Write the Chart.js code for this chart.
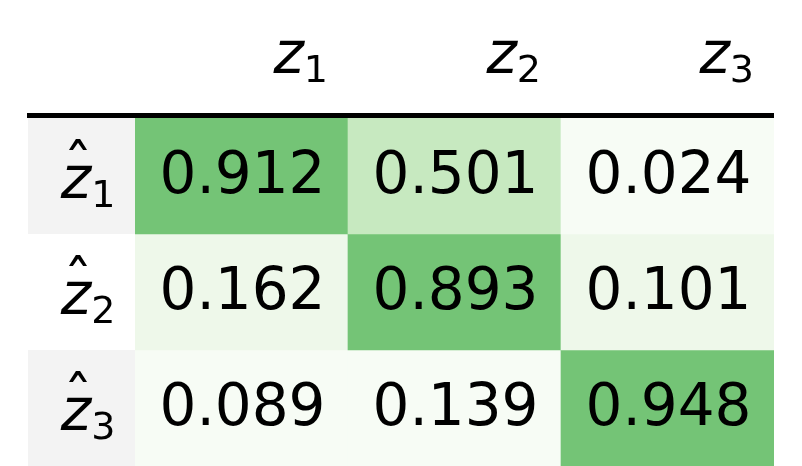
<!DOCTYPE html>
<html>
<head>
<meta charset="utf-8">
<script src="https://cdn.jsdelivr.net/npm/chart.js@4"></script>
<style>
  html, body { margin: 0; padding: 0; background: #fff; }
  #wrap { width: 802px; height: 466px; }
</style>
</head>
<body>
<div id="wrap"><canvas id="myChart"></canvas></div>
<script>
// columns (true factors) and rows (estimates)
const colLabels = ['z1', 'z2', 'z3'];
const rowLabels = ['ẑ1', 'ẑ2', 'ẑ3'];

// correlation values, one array per row
const row1 = [0.912, 0.501, 0.024];
const row2 = [0.162, 0.893, 0.101];
const row3 = [0.089, 0.139, 0.948];
const values = [row1, row2, row3];

// cell shades as they show in the picture
const shades = [
  ['#74c476', '#c7e9c0', '#f7fcf5'],
  ['#eef8ea', '#74c476', '#eef8ea'],
  ['#f7fcf5', '#f7fcf5', '#74c476']
];

const FONT = "'DejaVu Sans', sans-serif";

// every row is a floating bar per column spanning [r-0.5, r+0.5]
const datasets = values.map((row, r) => ({
  label: rowLabels[r],
  data: row.map(() => [r + 0.5, r + 1.5]),
  backgroundColor: shades[r],
  borderWidth: 0,
  barPercentage: 1,
  categoryPercentage: 1,
  grouped: false
}));

function drawSubLabel(ctx, text, x, y, align, big, small, drop) {
  const chars = text.normalize('NFD');
  const hat = chars.includes('\u0302');
  const base = chars.replace('\u0302', '').slice(0, -1), sub = chars.slice(-1);
  ctx.font = 'italic ' + big + 'px ' + FONT;
  const w1 = ctx.measureText(base).width;
  ctx.font = small + 'px ' + FONT;
  const w2 = ctx.measureText(sub).width;
  let x0 = align === 'right' ? x - w1 - w2 : x - (w1 + w2) / 2;
  ctx.textAlign = 'left';
  ctx.textBaseline = 'alphabetic';
  ctx.font = 'italic ' + big + 'px ' + FONT;
  ctx.fillText(base, x0, y);
  if (hat) {
    ctx.font = big + 'px ' + FONT;
    ctx.textAlign = 'center';
    ctx.fillText('\u02C6', x0 + w1 / 2 + 2, y - 12);
    ctx.textAlign = 'left';
  }
  ctx.font = small + 'px ' + FONT;
  ctx.fillText(sub, x0 + w1, y + drop);
}

const tablePlugin = {
  id: 'table',
  beforeDatasetsDraw(chart) {
    const ctx = chart.ctx, ys = chart.scales.y, area = chart.chartArea;
    ctx.save();
    // grey row-label cells on rows 1 and 3
    [0, 2].forEach(r => {
      const top = ys.getPixelForValue(r + 0.5);
      const bot = ys.getPixelForValue(r + 1.5);
      ctx.fillStyle = '#f3f3f3';
      ctx.fillRect(28, top, area.left - 28, bot - top);
    });
    ctx.restore();
  },
  afterDatasetsDraw(chart) {
    const ctx = chart.ctx, xs = chart.scales.x, ys = chart.scales.y, area = chart.chartArea;
    ctx.save();
    ctx.fillStyle = '#000';
    // values in cells
    ctx.font = '58px ' + FONT;
    ctx.textAlign = 'center';
    ctx.textBaseline = 'alphabetic';
    values.forEach((row, r) => {
      row.forEach((v, c) => {
        const el = chart.getDatasetMeta(r).data[c];
        const cy = (el.y + el.base) / 2;
        ctx.fillText(v.toFixed(3), el.x + 1, cy + 17);
      });
    });
    // header rule
    ctx.fillRect(27, area.top - 5, area.right - 27, 5);
    // column headers, right aligned
    colLabels.forEach((t, c) => {
      const right = xs.getPixelForValue(c) + (xs.getPixelForValue(1) - xs.getPixelForValue(0)) / 2;
      drawSubLabel(ctx, t, right - 20, 73, 'right', 58, 38, 9);
    });
    // row labels
    rowLabels.forEach((t, r) => {
      const cy = ys.getPixelForValue(r + 1);
      drawSubLabel(ctx, t, 88, cy + 22, 'center', 58, 38, 9);
    });
    ctx.restore();
  }
};

new Chart(document.getElementById('myChart'), {
  type: 'bar',
  data: { labels: colLabels, datasets: datasets },
  options: {
    responsive: true,
    maintainAspectRatio: false,
    animation: false,
    layout: { padding: { left: 135, top: 118, right: 28, bottom: 0 } },
    plugins: { legend: { display: false }, tooltip: { enabled: false } },
    scales: {
      x: { display: false, offset: true, grid: { display: false } },
      y: { display: false, min: 0.5, max: 3.5, reverse: true, grid: { display: false } }
    }
  },
  plugins: [tablePlugin]
});
</script>
</body>
</html>
